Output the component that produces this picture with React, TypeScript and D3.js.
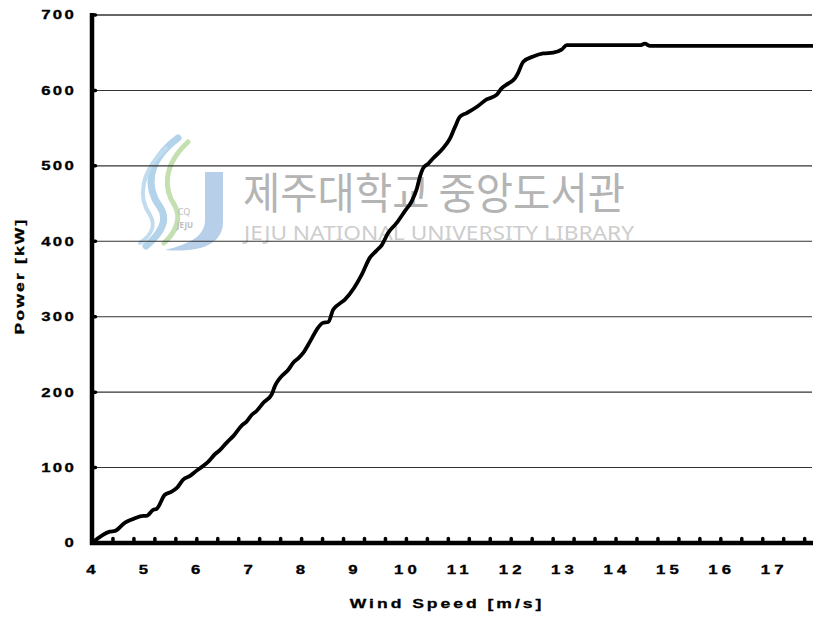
import React from "react";
import * as d3 from "d3";

// Wind turbine power curve: wind speed [m/s] vs electrical output [kW]
const windSpeed = [
  4.0, 4.34, 4.44, 4.63, 4.79, 4.98, 5.04, 5.17, 5.23, 5.39, 5.52, 5.62, 5.74,
  5.87, 6.0, 6.12, 6.22, 6.35, 6.44, 6.57, 6.7, 6.86, 6.95, 7.05, 7.14, 7.27,
  7.43, 7.49, 7.59, 7.75, 7.84, 7.94, 8.03, 8.16, 8.29, 8.41, 8.51, 8.6, 8.7,
  8.83, 9.0, 9.15, 9.3, 9.42, 9.53, 9.65, 9.81, 9.97, 10.1, 10.2, 10.26, 10.32,
  10.42, 10.51, 10.67, 10.83, 10.93, 11.02, 11.15, 11.34, 11.53, 11.72, 11.82,
  11.94, 12.07, 12.13, 12.23, 12.42, 12.61, 12.8, 12.96, 13.06, 14.46, 14.55,
  14.65, 17.74,
];
const power = [
  0, 15, 16, 27, 32, 36, 36, 44, 45, 64, 68, 73, 84, 89, 96, 102, 108, 118, 123,
  133, 142, 156, 161, 170, 175, 186, 197, 208, 219, 230, 239, 245, 252, 267,
  283, 292, 293, 309, 316, 323, 338, 356, 378, 387, 395, 411, 424, 440, 453,
  470, 486, 497, 503, 510, 521, 536, 552, 565, 570, 578, 588, 594, 603, 609,
  616, 623, 638, 645, 649, 650, 654, 660, 660, 662, 659, 659,
];

const xTickLabels = [4, 5, 6, 7, 8, 9, 10, 11, 12, 13, 14, 15, 16, 17];
const yTickLabels = [0, 100, 200, 300, 400, 500, 600, 700];
const xTitle = "Wind Speed [m/s]";
const yTitle = "Power [kW]";
const watermarkKo = "제주대학교 중앙도서관";
const watermarkEn = "JEJU NATIONAL UNIVERSITY  LIBRARY";

const W = 813;
const H = 620;
const X0 = 92;
const X1 = 812;
const Y0 = 543;
const Y1 = 15;

const FONT = "'Liberation Sans', Arial, Helvetica, sans-serif";

function WideText({
  x,
  y,
  anchor,
  size,
  spacing,
  sx = 1.4,
  rotate,
  children,
}: {
  x: number;
  y: number;
  anchor: "start" | "middle" | "end";
  size: number;
  spacing: number;
  sx?: number;
  rotate?: number;
  children: React.ReactNode;
}) {
  const t = `translate(${x},${y})${rotate ? ` rotate(${rotate})` : ""} scale(${sx},1)`;
  return (
    <text
      transform={t}
      textAnchor={anchor}
      fontFamily={FONT}
      fontWeight="bold"
      fontSize={size}
      letterSpacing={spacing}
      fill="#000"
      stroke="#000"
      strokeWidth={0.3}
    >
      {children}
    </text>
  );
}

export default function App() {
  const x = d3.scaleLinear().domain([4, 17.74]).range([X0, X1]);
  const y = d3.scaleLinear().domain([0, 700]).range([Y0, Y1]);

  const data = windSpeed.map((v, i) => [v, power[i]] as [number, number]);
  const line = d3
    .line<[number, number]>()
    .x((d) => x(d[0]))
    .y((d) => y(d[1]))
    .curve(d3.curveMonotoneX);

  const minorTicks = d3.range(1, 35).map((k) => 4 + 0.4 * k);

  return (
    <svg
      width={W}
      height={H}
      style={{ position: "absolute", left: 0, top: 0, background: "#fff" }}
    >
      <rect x={0} y={0} width={W} height={H} fill="#fff" />

      {/* library stamp behind the plot */}
      <g>
        <path
          d="M178,138 C146,162 146,188 160,207 C170,222 158,236 146,246"
          fill="none"
          stroke="#b3d3ea"
          strokeWidth={7}
          strokeLinecap="round"
        />
        <path
          d="M188,142 C162,166 164,190 175,206 C182,219 175,233 164,243"
          fill="none"
          stroke="#c4dfb0"
          strokeWidth={5}
          strokeLinecap="round"
        />
        <path
          d="M166,148 C140,172 138,198 150,215 C157,227 149,237 140,243"
          fill="none"
          stroke="#c2dcef"
          strokeWidth={4}
          strokeLinecap="round"
        />
        <path
          d="M205,172 L223,172 L223,222 C223,243 203,253 165,250 C190,244 205,236 205,220 Z"
          fill="#b8cfea"
        />
        <text x={184} y={215} fontFamily="'Noto Sans'" fontSize={9} fill="#bdbdbd" textAnchor="middle">
          CQ
        </text>
        <text x={185} y={228} fontFamily="'Noto Sans'" fontSize={8} fontWeight="bold" fill="#bdbdbd" textAnchor="middle">
          JEJU
        </text>
        <text
          x={243}
          y={209}
          fontFamily="'Noto Sans CJK KR'"
          fontSize={43}
          fill="#b4b4b4"
          textLength={382}
          lengthAdjust="spacingAndGlyphs"
        >
          {watermarkKo}
        </text>
        <text
          x={244}
          y={240}
          fontFamily="'Noto Sans'"
          fontSize={20}
          fill="#cdcdcd"
          textLength={390}
          lengthAdjust="spacingAndGlyphs"
        >
          {watermarkEn}
        </text>
      </g>

      {/* horizontal gridlines */}
      {yTickLabels
        .filter((v) => v > 0)
        .map((v) => (
          <line
            key={`g${v}`}
            x1={X0}
            x2={X1}
            y1={y(v)}
            y2={y(v)}
            stroke={v === 700 ? "#666" : "#333"}
            strokeWidth={v === 700 ? 2 : 1.1}
          />
        ))}

      {/* power curve */}
      <path
        d={line(data) || ""}
        fill="none"
        stroke="#000"
        strokeWidth={3.8}
        strokeLinejoin="round"
        strokeLinecap="round"
      />

      {/* axes */}
      <line x1={X0} x2={X0} y1={Y1 - 2} y2={Y0 + 2} stroke="#000" strokeWidth={4.5} />
      <line x1={X0 - 2} x2={X1 + 1} y1={Y0} y2={Y0} stroke="#000" strokeWidth={4.5} />

      {/* tick marks */}
      {yTickLabels.map((v) => (
        <line
          key={`yt${v}`}
          x1={93}
          x2={95.5}
          y1={y(v)}
          y2={y(v)}
          stroke="#000"
          strokeWidth={3.5}
          strokeLinecap="round"
        />
      ))}
      {minorTicks.map((v) => (
        <line
          key={`xt${v}`}
          x1={x(v)}
          x2={x(v)}
          y1={538.5}
          y2={543}
          stroke="#000"
          strokeWidth={3.5}
          strokeLinecap="round"
        />
      ))}

      {/* tick labels */}
      {yTickLabels.map((v) => (
        <WideText key={`yl${v}`} x={76} y={y(v) + 4.4} anchor="end" size={12} spacing={1.6}>
          {String(v)}
        </WideText>
      ))}
      {xTickLabels.map((v) => (
        <WideText key={`xl${v}`} x={x(v) + 1} y={573.5} anchor="middle" size={12} spacing={3}>
          {String(v)}
        </WideText>
      ))}

      {/* axis titles */}
      <WideText x={447} y={608} anchor="middle" size={13} spacing={2.2} sx={1.35}>
        {xTitle}
      </WideText>
      <WideText x={24} y={276} anchor="middle" size={13} spacing={1.6} sx={1.35} rotate={-90}>
        {yTitle}
      </WideText>
    </svg>
  );
}
